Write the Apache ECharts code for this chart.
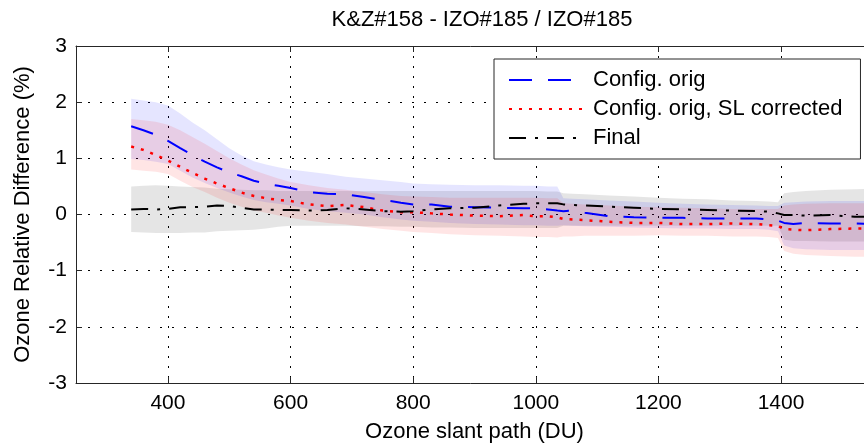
<!DOCTYPE html>
<html><head><meta charset="utf-8">
<script src="https://cdn.jsdelivr.net/npm/echarts@6/dist/echarts.min.js"></script>
<style>html,body{margin:0;padding:0;background:#fff}#c{width:864px;height:446px}</style>
</head><body><div id="c"></div>
<script>
// Ozone slant path (DU)
const slantPath = [340,360,380,400,420,440,460,480,500,520,540,560,580,600,630,660,690,720,750,780,800,830,860,900,940,980,1000,1020,1035,1045,1060,1080,1120,1160,1200,1240,1280,1320,1360,1380,1395,1405,1420,1440,1480,1520,1550];

// Mean relative differences (%)
const configOrig = [1.57,1.50,1.42,1.31,1.18,1.06,0.94,0.84,0.75,0.68,0.60,0.55,0.51,0.47,0.40,0.37,0.36,0.31,0.26,0.21,0.18,0.18,0.14,0.13,0.12,0.11,0.11,0.09,0.07,0.06,0.07,0.03,-0.03,-0.05,-0.06,-0.06,-0.07,-0.07,-0.07,-0.09,-0.11,-0.15,-0.17,-0.15,-0.16,-0.16,-0.17];
const slCorrected = [1.21,1.15,1.06,0.96,0.85,0.74,0.64,0.55,0.47,0.39,0.33,0.29,0.26,0.24,0.18,0.15,0.17,0.13,0.07,0.04,0.04,0.02,0.00,-0.02,-0.03,-0.01,-0.03,-0.03,-0.05,-0.08,-0.09,-0.10,-0.13,-0.15,-0.15,-0.17,-0.17,-0.16,-0.17,-0.19,-0.20,-0.26,-0.27,-0.28,-0.26,-0.25,-0.25];
const finalVals = [0.09,0.10,0.09,0.10,0.13,0.13,0.14,0.16,0.15,0.12,0.09,0.09,0.08,0.08,0.07,0.08,0.11,0.09,0.06,0.05,0.06,0.09,0.11,0.12,0.16,0.19,0.20,0.20,0.20,0.18,0.17,0.16,0.14,0.12,0.10,0.09,0.08,0.07,0.06,0.05,0.02,-0.01,-0.01,-0.02,-0.01,-0.04,-0.04];

// Spread bands (%)
const origHigh = [2.06,2.03,2.00,1.94,1.80,1.64,1.50,1.34,1.18,1.05,0.95,0.89,0.84,0.80,0.76,0.72,0.67,0.64,0.61,0.58,0.55,0.54,0.53,0.52,0.52,0.51,0.51,0.50,0.50,0.29,0.28,0.27,0.25,0.23,0.21,0.19,0.18,0.17,0.16,0.15,0.15,0.21,0.22,0.23,0.24,0.24,0.24];
const origLow = [0.99,0.97,0.94,0.90,0.78,0.66,0.56,0.47,0.39,0.32,0.26,0.22,0.19,0.16,0.10,0.06,0.03,0.00,-0.05,-0.09,-0.11,-0.13,-0.15,-0.17,-0.18,-0.19,-0.19,-0.20,-0.20,-0.19,-0.20,-0.21,-0.22,-0.23,-0.24,-0.25,-0.25,-0.26,-0.26,-0.27,-0.30,-0.55,-0.60,-0.62,-0.63,-0.63,-0.63];
const slHigh = [1.70,1.68,1.65,1.60,1.50,1.38,1.26,1.13,1.00,0.89,0.79,0.71,0.64,0.58,0.52,0.47,0.44,0.40,0.36,0.33,0.32,0.31,0.30,0.30,0.30,0.30,0.30,0.29,0.29,0.20,0.19,0.18,0.16,0.14,0.13,0.12,0.11,0.10,0.10,0.10,0.10,0.16,0.18,0.19,0.20,0.20,0.20];
const slLow = [0.80,0.78,0.76,0.72,0.60,0.49,0.40,0.30,0.21,0.14,0.07,0.03,-0.02,-0.06,-0.11,-0.15,-0.18,-0.22,-0.26,-0.29,-0.31,-0.33,-0.35,-0.37,-0.38,-0.39,-0.40,-0.40,-0.41,-0.39,-0.39,-0.38,-0.38,-0.38,-0.37,-0.38,-0.38,-0.39,-0.39,-0.40,-0.42,-0.65,-0.70,-0.72,-0.74,-0.75,-0.75];
const finalHigh = [0.50,0.51,0.52,0.51,0.50,0.49,0.48,0.46,0.45,0.44,0.43,0.43,0.42,0.42,0.42,0.42,0.42,0.42,0.42,0.42,0.42,0.42,0.42,0.42,0.42,0.42,0.42,0.41,0.41,0.38,0.37,0.36,0.34,0.32,0.30,0.28,0.27,0.25,0.24,0.23,0.22,0.38,0.40,0.42,0.44,0.45,0.46];
const finalLow = [-0.31,-0.32,-0.33,-0.33,-0.33,-0.32,-0.32,-0.30,-0.29,-0.28,-0.27,-0.25,-0.22,-0.20,-0.20,-0.20,-0.20,-0.21,-0.21,-0.22,-0.22,-0.23,-0.23,-0.24,-0.24,-0.24,-0.24,-0.24,-0.24,-0.20,-0.20,-0.20,-0.20,-0.20,-0.20,-0.20,-0.20,-0.20,-0.20,-0.20,-0.20,-0.45,-0.47,-0.47,-0.48,-0.48,-0.48];

const yTicks = [-3,-2,-1,0,1,2,3];

const FONT = 'Liberation Sans, Arial, Helvetica, sans-serif';
const AXC = '#262626';

function band(key, low, high, color) {
  return {
    name: key, type: 'custom', silent: true, clip: true, z: 1,
    data: slantPath.map((x, i) => [x, low[i], high[i]]),
    encode: { x: 0, y: [1, 2] },
    renderItem: function (params, api) {
      if (params.dataIndex !== 0) return;
      const pts = [];
      for (let i = 0; i < slantPath.length; i++) pts.push(api.coord([slantPath[i], high[i]]));
      for (let i = slantPath.length - 1; i >= 0; i--) pts.push(api.coord([slantPath[i], low[i]]));
      return { type: 'polygon', shape: { points: pts }, style: { fill: color, stroke: null } };
    }
  };
}

const chart = echarts.init(document.getElementById('c'), null, { renderer: 'canvas' });
chart.setOption({
  animation: false,
  backgroundColor: '#fff',
  title: {
    text: 'K&Z#158 - IZO#185 / IZO#185', left: 477, top: 4, textAlign: 'center',
    textStyle: { fontFamily: FONT, fontSize: 22, fontWeight: 'normal', color: '#000' }
  },
  grid: { left: 76, top: 46, width: 797, height: 337, containLabel: false, outerBoundsMode: 'none' },
  legend: {
    data: ['Config. orig', 'Config. orig, SL corrected', 'Final'],
    orient: 'vertical', left: 494, top: 59,
    itemWidth: 74, itemHeight: 14, itemGap: 7,
    padding: [10, 18, 10, 14],
    backgroundColor: '#fff', borderColor: AXC, borderWidth: 1,
    itemStyle: { opacity: 0, borderWidth: 0 },
    textStyle: { fontFamily: FONT, fontSize: 22, color: '#000', padding: [0, 0, 0, 5], lineHeight: 22 }
  },
  xAxis: [{
    type: 'value', position: 'bottom', min: 250, max: 1550, splitNumber: 6, minInterval: 200, maxInterval: 200,
    name: 'Ozone slant path (DU)', nameLocation: 'middle', nameGap: 38,
    nameTextStyle: { fontFamily: FONT, fontSize: 22, color: '#000' },
    axisLine: { show: true, onZero: false, lineStyle: { color: AXC, width: 1 } },
    axisTick: { show: true, inside: true, length: 6, lineStyle: { color: AXC } },
    axisLabel: { fontFamily: FONT, fontSize: 21, color: '#000', margin: 10, showMinLabel: false, showMaxLabel: false,
      formatter: v => String(v) },
    splitLine: { show: true, lineStyle: { color: '#000', width: 1, type: [2, 8] } }
  }, {
    type: 'value', position: 'top', min: 250, max: 1550, splitNumber: 6, minInterval: 200, maxInterval: 200,
    axisLine: { show: true, onZero: false, lineStyle: { color: AXC, width: 1 } },
    axisTick: { show: true, inside: true, length: 6, lineStyle: { color: AXC } },
    axisLabel: { show: false }, splitLine: { show: false }
  }],
  yAxis: {
    type: 'value', min: yTicks[0], max: yTicks[yTicks.length - 1], interval: 1,
    name: 'Ozone Relative Difference (%)', nameLocation: 'middle', nameGap: 42, nameRotate: 90,
    nameTextStyle: { fontFamily: FONT, fontSize: 22, color: '#000' },
    axisLine: { show: true, onZero: false, lineStyle: { color: AXC, width: 1 } },
    axisTick: { show: true, inside: true, length: 6, lineStyle: { color: AXC } },
    axisLabel: { fontFamily: FONT, fontSize: 21, color: '#000', margin: 9 },
    splitLine: { show: true, lineStyle: { color: '#000', width: 1, type: [2, 10] } }
  },
  series: [
    band('fin', finalLow, finalHigh, 'rgba(0,0,0,0.1)'),
    band('orig', origLow, origHigh, 'rgba(0,0,255,0.1)'),
    band('sl', slLow, slHigh, 'rgba(255,0,0,0.1)'),
    { name: 'Config. orig', type: 'line', symbol: 'none', z: 5,
      data: slantPath.map((x, i) => [x, configOrig[i]]),
      itemStyle: { color: '#0000ff' },
      lineStyle: { color: '#0000ff', width: 2, type: [23, 16], cap: 'butt' } },
    { name: 'Config. orig, SL corrected', type: 'line', symbol: 'none', z: 5,
      data: slantPath.map((x, i) => [x, slCorrected[i]]),
      itemStyle: { color: '#ff0000' },
      lineStyle: { color: '#ff0000', width: 2.5, type: [3, 7], cap: 'butt' } },
    { name: 'Final', type: 'line', symbol: 'none', z: 5,
      data: slantPath.map((x, i) => [x, finalVals[i]]),
      itemStyle: { color: '#000000' },
      lineStyle: { color: '#000000', width: 2, type: [17, 9, 3, 9], cap: 'butt' } }
  ]
});
</script></body></html>
